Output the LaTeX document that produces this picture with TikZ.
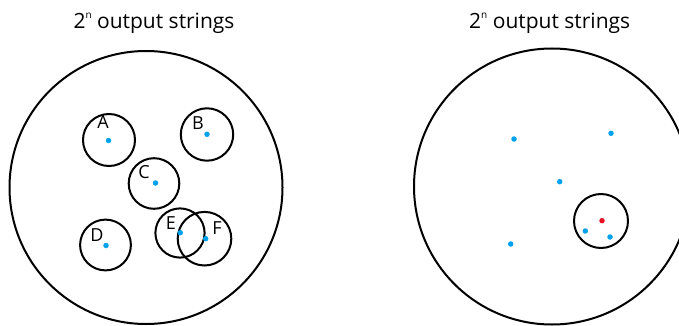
\documentclass[tikz,border=0pt]{standalone}
\usepackage{fontspec}
\setmainfont{Open Sans}
\usetikzlibrary{positioning}
\definecolor{DotBlue}{HTML}{00A2ED}
\definecolor{DotRed}{HTML}{E81123}
\newcommand{\SmallUp}[1]{\raisebox{9.5pt}{\fontsize{10pt}{10pt}\selectfont #1}}
\tikzset{
  space/.style={draw=black, line width=2pt, circle, inner sep=0pt, outer sep=0pt},
  ball/.style={draw=black, line width=2pt, circle, inner sep=0pt, outer sep=0pt},
  pt/.style={fill=DotBlue, circle, inner sep=0pt, minimum size=5.5pt},
  tag/.style={font=\fontsize{18pt}{20pt}\selectfont, inner sep=0pt},
  heading/.style={font=\fontsize{21pt}{24pt}\selectfont, inner sep=0pt}
}

\begin{document}
\begin{tikzpicture}[x=1pt, y=-1pt]
  \useasboundingbox (0,0) rectangle (679,326);
  \clip (0,0) rectangle (679,326);
  % left: all output strings, one ball round each codeword
  \node[heading] (titleL) at (154,23) {2\SmallUp{n} output strings};
  \node[space, minimum size=273pt] (spaceL) at (146,187.5) {};
  \foreach \n/\x/\y/\r/\lx/\ly in {A/109/140/26/103/122, B/207/134.5/26.2/198/123,
      C/154/183.5/25.3/144/172, D/105.5/245/25.4/97/235,
      E/180/233/24.6/171/223, F/204.5/238.7/26.8/217/228}{
    \node[ball, minimum size={2*\r pt}] (ball\n) at (\x,\y) {};
    \node[tag] (tag\n) at (\lx,\ly) {\n};
  }
  \foreach \n/\x/\y in {A/108.5/140.5, B/207/134.3, C/155.5/183, D/106/245.5,
      E/180.3/232.7, F/205.7/238.7}
    \node[pt] (dot\n) at (\x,\y) {};
  % right: same space, one received string with its ball
  \node[heading] (titleR) at (549.7,23) {2\SmallUp{n} output strings};
  \node[space, minimum size=276pt] (spaceR) at (552,186.5) {};
  \node[ball, minimum size=54pt] (ballR) at (601,221) {};
  \foreach \i/\x/\y in {1/514/139, 2/611/133.3, 3/559.7/181.7, 4/510.7/244,
      5/585.3/231, 6/610/237}
    \node[pt] (pt\i) at (\x,\y) {};
  \node[pt, fill=DotRed] (received) at (602,220.7) {};
\end{tikzpicture}
\end{document}
